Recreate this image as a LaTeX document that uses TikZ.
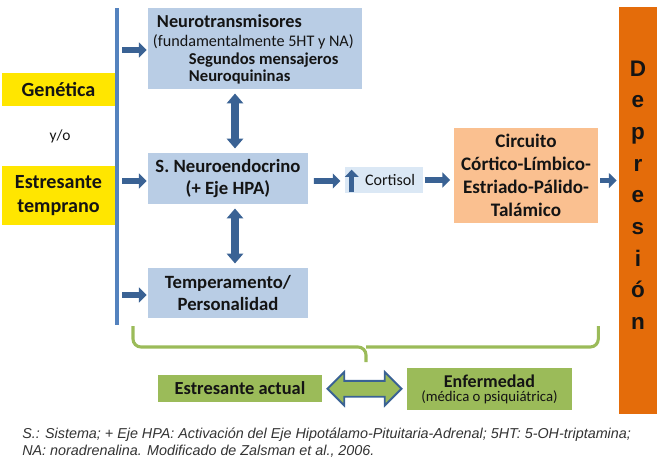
\documentclass[tikz,border=0pt]{standalone}
\usepackage{fontspec}
\setmainfont{Carlito}
\newfontfamily\arialfont{Liberation Sans}
\usepackage{tikz}
\usetikzlibrary{positioning,calc,arrows.meta,shapes.arrows}
\definecolor{cajaazul}{RGB}{185,205,229}
\definecolor{cajacort}{RGB}{219,232,245}
\definecolor{flechaazul}{RGB}{58,98,148}
\definecolor{lineaazul}{RGB}{84,130,190}
\definecolor{amarillo}{RGB}{255,230,0}
\definecolor{naranja}{RGB}{250,192,144}
\definecolor{naranjaosc}{RGB}{228,108,10}
\definecolor{verde}{RGB}{155,187,89}
\definecolor{texto}{RGB}{20,20,20}

\begin{document}
\begin{tikzpicture}[x=0.025cm, y=-0.025cm,
		caja/.style={fill=cajaazul, inner sep=0pt, align=center, text=texto, font=\bfseries\fontsize{13.3}{15.8}\selectfont},
		amar/.style={fill=amarillo, inner sep=0pt, align=center, text=texto, minimum width=2.825cm, font=\bfseries\fontsize{14.3}{17.5}\selectfont},
		verdecaja/.style={fill=verde, inner sep=0pt, align=center, text=texto},
		flecha/.style={draw=flechaazul, line width=4pt, -{Triangle[length=5.5pt,width=10.5pt]}},
		dflecha/.style={draw=flechaazul, line width=5pt, {Triangle[length=7pt,width=11.5pt]}-{Triangle[length=7pt,width=11.5pt]}},
		llave/.style={draw=verde, line width=2.2pt, rounded corners=0.2cm},
		letra/.style={text=texto, anchor=base, font=\arialfont\bfseries\fontsize{16}{18}\selectfont},
		nota/.style={anchor=base west, inner sep=0pt, text=black!80, font=\arialfont\itshape\fontsize{10.2}{12}\selectfont}
		]
		\useasboundingbox (0,0) rectangle (660,469);
		
		% ===== factores de la izquierda =====
		\node[amar, minimum height=0.825cm] (gen) at (58.5,89.5) {Genética};
		\node[text=texto, font=\fontsize{11}{13}\selectfont] (yo) at (60,136) {y/o};
		\node[amar, minimum height=1.475cm] (temp) at (58.5,195.5) {Estresante\\temprano};
		
		% ===== barra azul vertical =====
		\coordinate (barra1) at (117,8);
		\coordinate (barra2) at (117,325);
		\draw[lineaazul, line width=2.2pt] (barra1) -- (barra2);
		
		% ===== cajas azules =====
		\node[caja, minimum width=5.35cm, minimum height=2.025cm] (nt) at (255,48.5) {};
		\node[text=texto, anchor=base west, inner sep=0pt, font=\bfseries\fontsize{13}{15}\selectfont] (nt1) at ($(nt.north west)+(9,20)$) {Neurotransmisores};
		\node[text=texto, anchor=base west, inner sep=0pt, font=\fontsize{11.5}{13}\selectfont] (nt2) at ($(nt.north west)+(5,39)$) {(fundamentalmente 5HT y NA)};
		\node[text=texto, anchor=base west, inner sep=0pt, font=\bfseries\fontsize{11.8}{13}\selectfont] (nt3) at ($(nt.north west)+(41,57)$) {Segundos mensajeros};
		\node[text=texto, anchor=base west, inner sep=0pt, font=\bfseries\fontsize{11.8}{13}\selectfont] (nt4) at ($(nt.north west)+(41,74)$) {Neuroquininas};
		
		\node[caja, minimum width=4cm, minimum height=1.275cm] (ne) at (228,178.5) {S. Neuroendocrino\\(+ Eje HPA)};
		\node[caja, minimum width=4cm, minimum height=1.25cm] (tp) at (228,293) {Temperamento/\\Personalidad};
		
		\node[fill=cajacort, inner sep=0pt, minimum width=1.95cm, minimum height=0.65cm, text=texto, font=\fontsize{11.4}{13}\selectfont] (cort) at (384,180) {\hspace{0.3cm}Cortisol};
		\node[fill=naranja, inner sep=0pt, align=center, minimum width=3.6cm, minimum height=2.375cm, text=texto, font=\bfseries\fontsize{13.6}{16.5}\selectfont] (circ) at (526,175.5) {Circuito\\Córtico-Límbico-\\Estriado-Pálido-\\Talámico};
		
		% ===== columna Depresión =====
		\node[fill=naranjaosc, minimum width=0.95cm, minimum height=10.15cm, inner sep=0pt] (dep) at (638,210.5) {};
		\foreach \l [count=\i from 1] in {D,e,p,r,e,s,i,ó,n}{
			\node[letra] (d\i) at (638,{76+(\i-1)*31.7}) {\l};
		}
		
		% ===== flechas =====
		\draw[flecha] ($(barra1 |- nt.west)+(5,1.5)$) -- ($(nt.west)+(-1,1.5)$);
		\draw[flecha] ($(barra1 |- ne.west)+(5,2.5)$) -- ($(ne.west)+(-1,2.5)$);
		\draw[flecha] ($(barra1 |- tp.west)+(5,2)$) -- ($(tp.west)+(-1,2)$);
		\draw[flecha, shorten <=4pt, shorten >=3pt] ($(ne.east)+(0,2.5)$) -- ($(cort.west)+(0,1)$);
		\draw[flecha, shorten <=1pt, shorten >=2.5pt] (cort.east) -- (cort.east -| circ.west);
		\draw[flecha, shorten <=1.5pt, shorten >=1.5pt] ($(circ.east)+(0,5)$) -- ($(dep.west |- circ.east)+(0,5)$);
		\draw[dflecha, shorten <=3pt, shorten >=3pt] ($(ne.north)+(7,0)$) -- ($(ne.north |- nt.south)+(7,0)$);
		\draw[dflecha, shorten <=3pt, shorten >=3pt] ($(ne.south)+(7,0)$) -- ($(tp.north)+(7,0)$);
		\draw[draw=flechaazul, line width=3.5pt, -{Triangle[length=5pt,width=9.5pt]}] ($(cort.south west)+(7,-1)$) -- ($(cort.north west)+(7,3)$);
		
		% ===== llave verde =====
		\coordinate (ll1) at (133,326);
		\coordinate (ll2) at (circ.east |- ll1);
		\coordinate (punta) at (366,362);
		\draw[llave] (ll1) |- (punta |- 0,347) -- (punta);
		\draw[llave] (ll2) |- (punta |- 0,347);
		
		% ===== factores actuales =====
		\node[verdecaja, minimum width=4.1cm, minimum height=0.675cm, font=\bfseries\fontsize{13.1}{15}\selectfont] (act) at (240,388.5) {Estresante actual};
		\node[verdecaja, minimum width=4.125cm, minimum height=1.05cm] (enf) at (489.5,389) {{\bfseries\fontsize{12.8}{13}\selectfont Enfermedad}\\[-2pt]{\fontsize{10.5}{11}\selectfont (médica o psiquiátrica)}};
		\node[double arrow, fill=verde, draw=flechaazul, line width=1.3pt, inner sep=0.175cm, minimum height=1.85cm, double arrow head extend=0.22cm] (lazo) at ($(act.east)!0.5!(enf.west)$) {};
		
		% ===== nota al pie =====
		\node[nota] (nota1) at (22,438) {S.: Sistema; + Eje HPA: Activación del Eje Hipotálamo-Pituitaria-Adrenal; 5HT: 5-OH-triptamina;};
		\node[nota] (nota2) at (22,455) {NA: noradrenalina. Modificado de Zalsman et al., 2006.};
		
	\end{tikzpicture}
\end{document}
